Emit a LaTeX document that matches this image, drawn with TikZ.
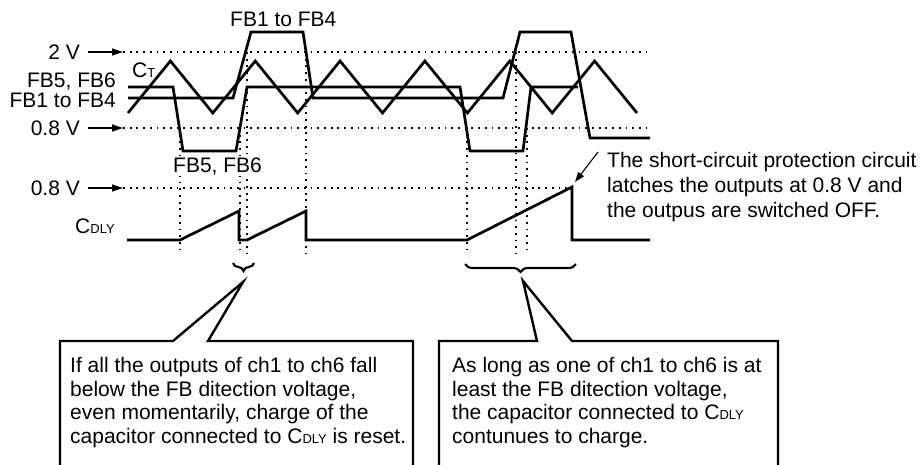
\documentclass[tikz,border=0pt]{standalone}
\usepackage{fontspec}
\setmainfont{Liberation Sans}
\usetikzlibrary{arrows.meta,decorations.pathreplacing}
\newcommand{\smallsub}[1]{{\fontsize{13}{13}\selectfont #1}}
\tikzset{
	wave/.style={line width=2.7pt},
	guide/.style={line width=1.2pt,dash pattern=on 1.8pt off 4.9pt},
	lbl/.style={font=\fontsize{21}{23.5}\selectfont,inner sep=0pt},
	note/.style={lbl,align=left,anchor=north west},
	ptr/.style={line width=1.3pt,-{Triangle[length=11pt,width=7pt]}},
	bracket/.style={line width=2.1pt,decorate,decoration={brace,mirror,amplitude=8pt}},
	callout/.style={line width=2.4pt,line join=miter},
}
\begin{document}
\begin{tikzpicture}[x=1pt,y=-1pt]
	\useasboundingbox (0,0) rectangle (924,464);
	% levels
	\draw[guide] (123,52)--(650,52);
	\draw[guide] (123,128)--(650,128);
	\draw[guide] (123,188)--(572,188);
	\foreach \x/\y in {180/128,240/128,247/52,306/52,467/128,516/52,527/128}{
		\draw[guide] (\x,\y)--(\x,254);%time marks
	}
	\node[lbl,anchor=east] (lab2v) at (80,52) {2 V};
	\node[lbl,anchor=east] (lab08a) at (80,128) {0.8 V};
	\node[lbl,anchor=east] (lab08b) at (80,188) {0.8 V};
	\coordinate (end2v) at (123,52);
	\coordinate (end08a) at (123,128);
	\coordinate (end08b) at (123,188);
	\draw[ptr,shorten <=8pt] (lab2v)--(end2v);
	\draw[ptr,shorten <=8pt] (lab08a)--(end08a);
	\draw[ptr,shorten <=8pt] (lab08b)--(end08b);
	% waveforms
	\draw[wave] (128,113)--(170.4,61)--(212.8,113)--(255.3,61)--(297.7,113)--(340.1,61)%
	--(382.5,113)--(424.9,61)--(467.4,113)--(509.8,61)--(552.2,113)--(594.6,61)--(637,113);
	\draw[wave] (128,87)--(173,87)--(183,151)--(236,151)--(247,87)--(460,87)%
	--(470,151)--(523,151)--(531,87)--(578,87);
	\draw[wave] (128,98)--(233,98)--(251,32)--(303,32)--(313,98)--(503,98)%
	--(520,32)--(571,32)--(590,138)--(650,138);
	\draw[wave] (127,240)--(180,240)--(239,211)--(239,240)--(247,240)--(306,211)%
	--(306,240)--(467,240)--(572,187)--(572,240)--(650,240);
	\node[lbl,anchor=base west] (labtop) at (230,26) {FB1 to FB4};
	\node[lbl,anchor=base west] (labct) at (132,77) {C\smallsub{T}};
	\node[lbl,anchor=base east] (labfb56) at (116,87) {FB5, FB6};
	\node[lbl,anchor=base east] (labfb14) at (116,107) {FB1 to FB4};
	\node[lbl,anchor=base west,fill=white,inner sep=1pt] (labfb56b) at (172,172) {FB5, FB6};
	\node[lbl,anchor=base west] (labcdly) at (75,233) {C\smallsub{DLY}};
	% notes
	\node[note,font=\fontsize{21}{25}\selectfont] (noteshort) at (607,152)
	{The short-circuit protection circuit\\latches the outputs at 0.8 V and\\the outpus are switched OFF.};
	\coordinate (tipshort) at (575,182);
	\draw[line width=1.1pt,-{Triangle[length=10pt,width=7pt]}] ([xshift=-9pt]noteshort.north west)--(tipshort);
	\draw[bracket] (233,263)--(254,263);
	\draw[bracket] (465,264)--(576,264);
	\draw[callout] (60,480)--(60,341)--(173,341)--(243,282)--(208,341)--(413,341)--(413,480);
	\draw[callout] (439,480)--(439,341)--(537,341)--(523,281)--(572,341)--(778,341)--(778,480);
	\node[note] (noteleft) at (70,357.5)
	{If all the outputs of ch1 to ch6 fall\\below the FB ditection voltage,\\even momentarily, charge of the\\capacitor connected to C\smallsub{DLY} is reset.};
	\node[note] (noteright) at (452,357.5)
	{As long as one of ch1 to ch6 is at\\least the FB ditection voltage,\\the capacitor connected to C\smallsub{DLY}\\contunues to charge.};
\end{tikzpicture}
\end{document}
